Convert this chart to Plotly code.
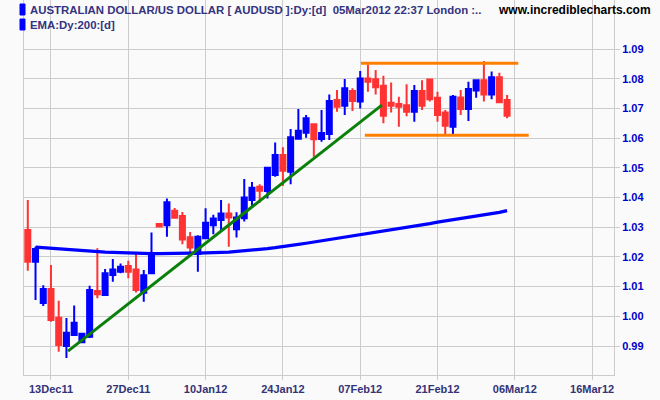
import plotly.graph_objects as go

# ---- data ----
bar_index = list(range(-3, 60))
opens = [1.0291, 1.0184, 1.0045, 1.0092, 0.9995, 0.9900, 0.9937, 0.9913, 0.9931, 1.0085,
         1.0072, 1.0139, 1.0150, 1.0169, 1.0158, 1.0079, 1.0145, 1.0311, 1.0307, 1.0355,
         1.0338, 1.0266, 1.0210, 1.0263, 1.0307, 1.0324, 1.0346, 1.0293, 1.0330, 1.0392,
         1.0436, 1.0422, 1.0476, 1.0543, 1.0487, 1.0598, 1.0618, 1.0647, 1.0597, 1.0614,
         1.0728, 1.0709, 1.0759, 1.0723, 1.0801, 1.0798, 1.0776, 1.0719, 1.0715, 1.0711,
         1.0689, 1.0759, 1.0797, 1.0736, 1.0686, 1.0638, 1.0737, 1.0698, 1.0760, 1.0795,
         1.0747, 1.0805, 1.0728]
highs = [1.0392, 1.0234, 1.0105, 1.0173, 1.0052, 0.9994, 1.0036, 0.9943, 1.0103, 1.0229,
         1.0159, 1.0193, 1.0178, 1.0187, 1.0213, 1.0156, 1.0282, 1.0311, 1.0397, 1.0365,
         1.0351, 1.0284, 1.0273, 1.0364, 1.0342, 1.0392, 1.0380, 1.0350, 1.0462, 1.0452,
         1.0445, 1.0501, 1.0585, 1.0569, 1.0631, 1.0698, 1.0678, 1.0648, 1.0695, 1.0747,
         1.0762, 1.0799, 1.0768, 1.0826, 1.0848, 1.0829, 1.0810, 1.0787, 1.0739, 1.0781,
         1.0779, 1.0795, 1.0799, 1.0756, 1.0695, 1.0745, 1.0762, 1.0790, 1.0795, 1.0860,
         1.0824, 1.0820, 1.0745]
lows = [1.0153, 1.0055, 1.0035, 0.9982, 0.9881, 0.9860, 0.9935, 0.9911, 0.9927, 1.0061,
        1.0068, 1.0116, 1.0145, 1.0128, 1.0080, 1.0049, 1.0145, 1.0302, 1.0268, 1.0332,
        1.0243, 1.0210, 1.0150, 1.0263, 1.0276, 1.0291, 1.0234, 1.0265, 1.0319, 1.0369,
        1.0382, 1.0397, 1.0470, 1.0439, 1.0445, 1.0598, 1.0601, 1.0537, 1.0588, 1.0594,
        1.0689, 1.0678, 1.0691, 1.0700, 1.0756, 1.0747, 1.0650, 1.0686, 1.0638, 1.0674,
        1.0655, 1.0695, 1.0723, 1.0655, 1.0614, 1.0608, 1.0678, 1.0658, 1.0736, 1.0723,
        1.0731, 1.0721, 1.0667]
closes = [1.0184, 1.0227, 1.0092, 0.9988, 0.9903, 0.9945, 0.9978, 0.9941, 1.0089, 1.0074,
          1.0145, 1.0158, 1.0167, 1.0150, 1.0089, 1.0138, 1.0210, 1.0302, 1.0384, 1.0332,
          1.0259, 1.0232, 1.0268, 1.0315, 1.0329, 1.0346, 1.0333, 1.0333, 1.0400, 1.0433,
          1.0423, 1.0500, 1.0543, 1.0490, 1.0603, 1.0625, 1.0667, 1.0596, 1.0617, 1.0725,
          1.0706, 1.0768, 1.0725, 1.0801, 1.0790, 1.0771, 1.0675, 1.0709, 1.0706, 1.0689,
          1.0759, 1.0709, 1.0731, 1.0678, 1.0642, 1.0739, 1.0698, 1.0765, 1.0795, 1.0747,
          1.0805, 1.0721, 1.0675]

ema_index = list(range(-2, 60))
ema_200 = [1.0233, 1.0231, 1.0229, 1.0226, 1.0224, 1.0222, 1.0221, 1.0219, 1.0218, 1.0216,
           1.0215, 1.0214, 1.0212, 1.0211, 1.0211, 1.0211, 1.0211, 1.0212, 1.0212, 1.0212,
           1.0213, 1.0213, 1.0213, 1.0214, 1.0215, 1.0216, 1.0218, 1.0220, 1.0222, 1.0225,
           1.0228, 1.0231, 1.0234, 1.0238, 1.0242, 1.0246, 1.0250, 1.0254, 1.0258, 1.0262,
           1.0267, 1.0271, 1.0275, 1.0279, 1.0283, 1.0287, 1.0292, 1.0296, 1.0300, 1.0304,
           1.0308, 1.0312, 1.0317, 1.0321, 1.0325, 1.0329, 1.0333, 1.0337, 1.0341, 1.0345,
           1.0350, 1.0356]

trend_x = [2.2, 42.8]
trend_y = [0.9883, 1.0711]
resist_x = [40.1, 60.45]
resist_y = [1.0852, 1.0852]
support_x = [40.6, 61.8]
support_y = [1.0610, 1.0610]

tick_pos = [0, 10, 20, 30, 40, 50, 60, 70]
tick_text = ["13Dec11", "27Dec11", "10Jan12", "24Jan12", "07Feb12", "21Feb12", "06Mar12", "16Mar12"]
price_ticks = [0.99, 1.00, 1.01, 1.02, 1.03, 1.04, 1.05, 1.06, 1.07, 1.08, 1.09]

BLUE = "#0000FF"
RED = "#FF3333"
GRID = "#CCCCCC"
FONT = "Liberation Sans"

fig = go.Figure()
fig.add_trace(go.Candlestick(
    x=bar_index, open=opens, high=highs, low=lows, close=closes,
    increasing=dict(line=dict(color=BLUE, width=2), fillcolor=BLUE),
    decreasing=dict(line=dict(color=RED, width=2), fillcolor=RED),
    whiskerwidth=0, showlegend=False, hoverinfo="skip"))
fig.add_trace(go.Scatter(x=ema_index, y=ema_200, mode="lines",
                         line=dict(color=BLUE, width=3.2), showlegend=False, hoverinfo="skip"))
fig.add_trace(go.Scatter(x=trend_x, y=trend_y, mode="lines",
                         line=dict(color="#0A800A", width=3), showlegend=False, hoverinfo="skip"))
fig.add_trace(go.Scatter(x=resist_x, y=resist_y, mode="lines",
                         line=dict(color="#FF8000", width=3), showlegend=False, hoverinfo="skip"))
fig.add_trace(go.Scatter(x=support_x, y=support_y, mode="lines",
                         line=dict(color="#FF8000", width=3), showlegend=False, hoverinfo="skip"))

# legend-like header
plot_l, plot_r, plot_t, plot_b = 24, 614, 0, 375
pw, ph = plot_r - plot_l, plot_b - plot_t
def px(x):
    return (x - plot_l) / pw
def py(y):
    return (plot_b - y) / ph

for (y0, y1) in [(4, 15), (19, 30)]:
    fig.add_shape(type="rect", xref="paper", yref="paper",
                  x0=px(20), x1=px(25), y0=py(y1), y1=py(y0),
                  fillcolor=BLUE, line=dict(color=BLUE, width=1))

fig.add_annotation(xref="paper", yref="paper", x=px(28), y=py(10), xanchor="left", yanchor="middle",
                   text="AUSTRALIAN DOLLAR/US DOLLAR [ AUDUSD ]:Dy:[d]  05Mar2012 22:37 London :..",
                   showarrow=False, font=dict(family=FONT, size=11.4, color="#333380", weight="bold"))
fig.add_annotation(xref="paper", yref="paper", x=px(28), y=py(24.5), xanchor="left", yanchor="middle",
                   text="EMA:Dy:200:[d]",
                   showarrow=False, font=dict(family=FONT, size=11.4, color="#333380", weight="bold"))
fig.add_annotation(xref="paper", yref="paper", x=px(653), y=py(10), xanchor="right", yanchor="middle",
                   text="www.incrediblecharts.com",
                   showarrow=False, font=dict(family=FONT, size=12, color="#000000", weight="bold"))

fig.update_layout(
    width=660, height=400,
    margin=dict(l=plot_l, r=660 - plot_r, t=plot_t, b=400 - plot_b),
    paper_bgcolor="#FAFAFA", plot_bgcolor="#FAFAFA",
    boxgap=0.35, boxgroupgap=0,
    showlegend=False,
    xaxis=dict(range=[-3.49, 72.83], tickmode="array", tickvals=tick_pos, ticktext=tick_text,
               showgrid=True, gridcolor=GRID, gridwidth=1, zeroline=False,
               showline=True, linecolor=GRID, linewidth=1,
               ticks="outside", ticklen=4, tickcolor=GRID,
               tickfont=dict(family=FONT, size=11, color="#333377", weight="bold"),
               rangeslider=dict(visible=False), fixedrange=True),
    yaxis=dict(side="right", range=[0.98024, 1.1065], tickmode="array", tickvals=price_ticks,
               ticktext=[f"{v:.2f}" for v in price_ticks],
               showgrid=True, gridcolor=GRID, gridwidth=1, zeroline=False,
               showline=True, mirror=True, linecolor=GRID, linewidth=1,
               ticks="outside", ticklen=5, tickcolor=GRID,
               tickfont=dict(family=FONT, size=11, color="#0000CC", weight="bold"),
               fixedrange=True),
)

fig.write_html("out.html", config={"displayModeBar": False},
               post_script="document.body.style.margin='0';document.body.style.overflow='hidden';")
